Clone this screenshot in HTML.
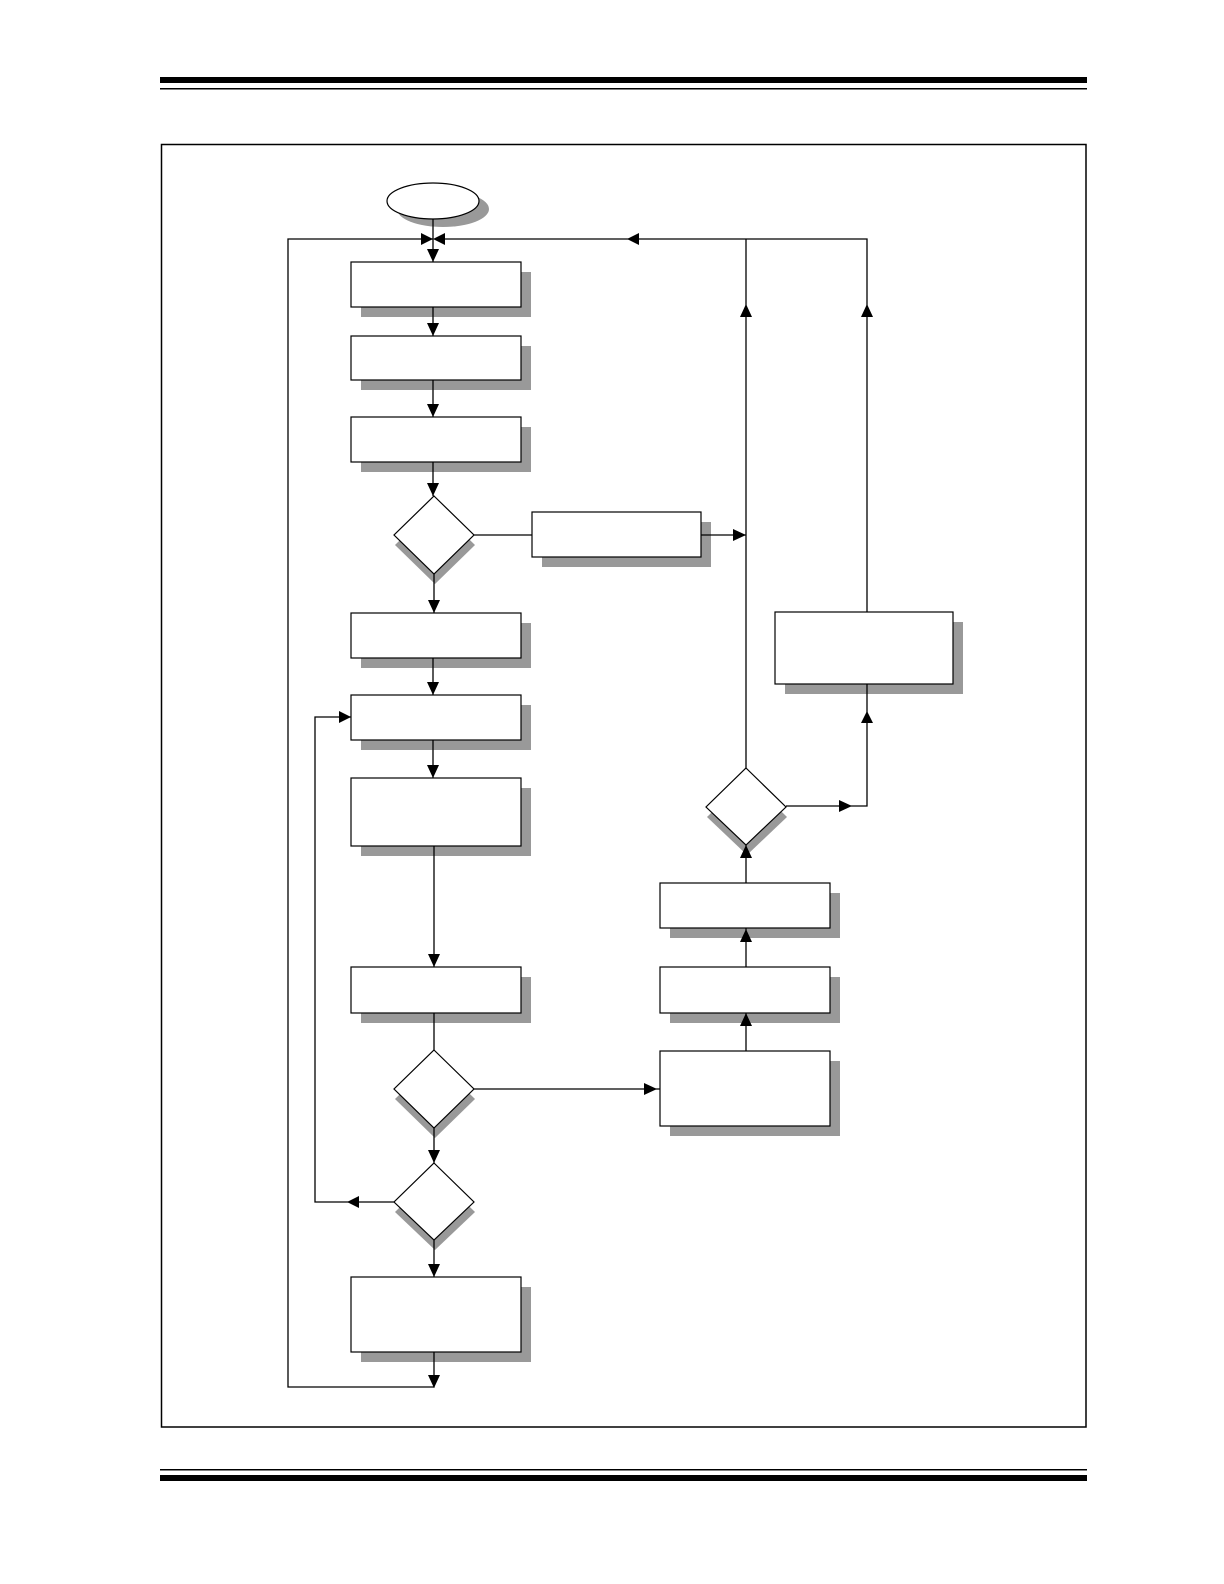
<!DOCTYPE html>
<html><head><meta charset="utf-8"><style>html,body{margin:0;padding:0;background:#fff;overflow:hidden;width:1224px;height:1584px}svg{display:block}</style></head>
<body>
<svg width="1224" height="1584" viewBox="0 0 1224 1584" xmlns="http://www.w3.org/2000/svg">
<rect x="160" y="77" width="927" height="6" fill="#000"/>
<rect x="160" y="88" width="927" height="1.5" fill="#000"/>
<rect x="160" y="1469" width="927" height="1.5" fill="#000"/>
<rect x="160" y="1475" width="927" height="6" fill="#000"/>
<rect x="161.5" y="144.5" width="924.5" height="1282.5" fill="none" stroke="#000" stroke-width="1.5"/>

<g fill="#999">
<ellipse cx="443" cy="209" rx="46" ry="18"/>
<rect x="361" y="272" width="170" height="45"/>
<rect x="361" y="346" width="170" height="44"/>
<rect x="361" y="427" width="170" height="45"/>
<rect x="361" y="623" width="170" height="45"/>
<rect x="361" y="705" width="170" height="45"/>
<rect x="361" y="788" width="170" height="68"/>
<rect x="361" y="977" width="170" height="46"/>
<rect x="361" y="1287" width="170" height="75"/>
<rect x="542" y="522" width="169" height="45"/>
<rect x="785" y="622" width="178" height="72"/>
<rect x="670" y="893" width="170" height="45"/>
<rect x="670" y="977" width="170" height="46"/>
<rect x="670" y="1061" width="170" height="75"/>
<polygon points="434,496 474,535 434,574 394,535" transform="translate(1,10)"/>
<polygon points="434,1050 474,1089 434,1128 394,1089" transform="translate(1,10)"/>
<polygon points="434,1163 474,1202 434,1240 394,1202" transform="translate(1,10)"/>
<polygon points="746,768 786,807 746,845 706,807" transform="translate(1,10)"/>
</g>

<g fill="#fff" stroke="#000" stroke-width="1.2">
<ellipse cx="433" cy="201" rx="46" ry="18"/>
<rect x="351" y="262" width="170" height="45"/>
<rect x="351" y="336" width="170" height="44"/>
<rect x="351" y="417" width="170" height="45"/>
<rect x="351" y="613" width="170" height="45"/>
<rect x="351" y="695" width="170" height="45"/>
<rect x="351" y="778" width="170" height="68"/>
<rect x="351" y="967" width="170" height="46"/>
<rect x="351" y="1277" width="170" height="75"/>
<rect x="532" y="512" width="169" height="45"/>
<rect x="775" y="612" width="178" height="72"/>
<rect x="660" y="883" width="170" height="45"/>
<rect x="660" y="967" width="170" height="46"/>
<rect x="660" y="1051" width="170" height="75"/>
<polygon points="434,496 474,535 434,574 394,535"/>
<polygon points="434,1050 474,1089 434,1128 394,1089"/>
<polygon points="434,1163 474,1202 434,1240 394,1202"/>
<polygon points="746,768 786,807 746,845 706,807"/>
</g>

<g stroke="#000" stroke-width="1.3" fill="none">
<line x1="433" y1="219" x2="433" y2="262"/>
<polyline points="433,239 288,239 288,1387 434,1387 434,1352"/>
<polyline points="445,239 867,239 867,612"/>
<line x1="746" y1="239" x2="746" y2="768"/>
<line x1="433" y1="307" x2="433" y2="336"/>
<line x1="433" y1="380" x2="433" y2="417"/>
<line x1="433" y1="462" x2="433" y2="496"/>
<line x1="434" y1="574" x2="434" y2="613"/>
<line x1="433" y1="658" x2="433" y2="695"/>
<line x1="433" y1="740" x2="433" y2="778"/>
<line x1="434" y1="846" x2="434" y2="967"/>
<line x1="434" y1="1013" x2="434" y2="1050"/>
<line x1="434" y1="1128" x2="434" y2="1163"/>
<line x1="434" y1="1240" x2="434" y2="1277"/>
<line x1="474" y1="535" x2="532" y2="535"/>
<line x1="701" y1="535" x2="746" y2="535"/>
<line x1="474" y1="1089" x2="660" y2="1089"/>
<polyline points="394,1202 315,1202 315,717 351,717"/>
<polyline points="786,806 867,806 867,684"/>
<line x1="746" y1="845" x2="746" y2="883"/>
<line x1="746" y1="928" x2="746" y2="967"/>
<line x1="746" y1="1013" x2="746" y2="1051"/>
</g>

<g fill="#000">
<polygon points="421,233 433,239 421,245"/>
<polygon points="445,233 433,239 445,245"/>
<polygon points="427,249 439,249 433,262"/>
<polygon points="427,323 439,323 433,336"/>
<polygon points="427,404 439,404 433,417"/>
<polygon points="427,483 439,483 433,496"/>
<polygon points="428,600 440,600 434,613"/>
<polygon points="427,682 439,682 433,695"/>
<polygon points="427,765 439,765 433,778"/>
<polygon points="428,954 440,954 434,967"/>
<polygon points="428,1150 440,1150 434,1163"/>
<polygon points="428,1264 440,1264 434,1277"/>
<polygon points="428,1375 440,1375 434,1388"/>
<polygon points="639,233 627,239 639,245"/>
<polygon points="740,317 752,317 746,304"/>
<polygon points="861,317 873,317 867,304"/>
<polygon points="733,529 746,535 733,541"/>
<polygon points="644,1083 657,1089 644,1095"/>
<polygon points="359,1196 347,1202 359,1208"/>
<polygon points="339,711 351,717 339,723"/>
<polygon points="839,800 852,806 839,812"/>
<polygon points="861,723 873,723 867,711"/>
<polygon points="740,858 752,858 746,845"/>
<polygon points="740,942 752,942 746,929"/>
<polygon points="740,1026 752,1026 746,1013"/>
</g>
</svg>
</body></html>
